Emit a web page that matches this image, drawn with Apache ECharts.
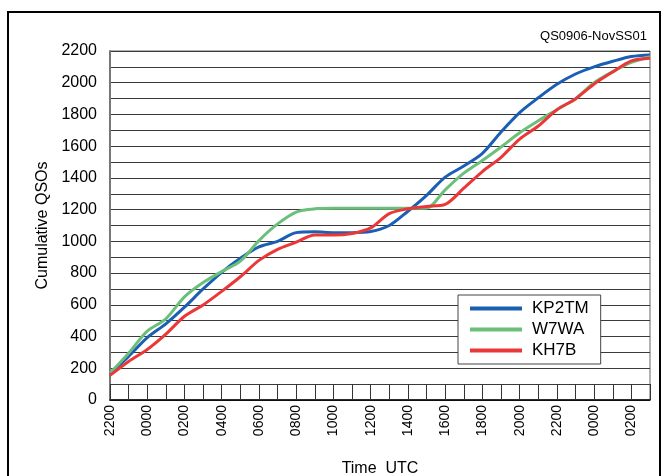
<!DOCTYPE html>
<html>
<head>
<meta charset="utf-8">
<script src="https://cdn.jsdelivr.net/npm/echarts@6/dist/echarts.min.js"></script>
<style>
  html, body { margin: 0; padding: 0; background: #fff; }
  #chart { width: 666px; height: 476px; }
</style>
</head>
<body>
<div id="chart"></div>
<script>
// hourly categories, 2200 through 0300 two days later
const hours = ['2200','2300','0000','0100','0200','0300','0400','0500','0600','0700',
  '0800','0900','1000','1100','1200','1300','1400','1500','1600','1700',
  '1800','1900','2000','2100','2200','2300','0000','0100','0200','0300']

const kp2tm = [165, 275, 393, 480, 585, 700, 805, 893, 965, 1000,
  1055, 1060, 1055, 1055, 1062, 1100, 1190, 1290, 1405, 1475,
  1555, 1690, 1812, 1905, 1990, 2055, 2100, 2135, 2165, 2175]
const w7wa = [170, 295, 434, 512, 650, 740, 810, 875, 1005, 1110,
  1185, 1205, 1208, 1208, 1208, 1208, 1208, 1210, 1325, 1430,
  1510, 1595, 1685, 1760, 1830, 1900, 2000, 2070, 2128, 2164]
const kh7b = [155, 243, 318, 415, 528, 599, 685, 777, 880, 950,
  995, 1040, 1040, 1050, 1085, 1175, 1205, 1220, 1233, 1335,
  1440, 1530, 1645, 1727, 1830, 1898, 1992, 2068, 2138, 2155]

const seriesNames = ['KP2TM', 'W7WA', 'KH7B']
const colors = ['#1a5fb4', '#6cbf7b', '#ea3838']

const chart = echarts.init(document.getElementById('chart'))
const font = 'Liberation Sans, Arial, sans-serif'

chart.setOption({
  animation: false,
  color: colors,
  textStyle: { fontFamily: font },
  title: {
    text: 'QS0906-NovSS01',
    right: 14,
    top: 25,
    textStyle: { fontSize: 13, fontWeight: 'normal', color: '#000', fontFamily: font }
  },
  graphic: [{
    type: 'rect',
    shape: { x: 8, y: 12, width: 652, height: 480 },
    style: { fill: 'none', stroke: '#000', lineWidth: 2 },
    silent: true
  }],
  legend: {
    orient: 'vertical',
    left: 458,
    top: 295,
    width: 145,
    data: seriesNames,
    icon: 'rect',
    itemWidth: 52,
    itemHeight: 4,
    itemGap: 4,
    padding: [5, 12, 5, 12],
    backgroundColor: '#fff',
    borderColor: '#444',
    borderWidth: 1,
    textStyle: { fontSize: 17, lineHeight: 17, color: '#000', padding: [0, 0, 0, 5] }
  },
  grid: {
    left: 110,
    right: 16,
    top: 51,
    bottom: 76,
    containLabel: false,
    outerBoundsMode: 'none',
    show: true,
    borderColor: '#666',
    borderWidth: 1
  },
  xAxis: {
    type: 'category',
    data: hours,
    boundaryGap: false,
    name: 'Time  UTC',
    nameLocation: 'middle',
    nameGap: 61,
    nameTextStyle: { fontSize: 16, color: '#000' },
    axisLine: { lineStyle: { color: '#000', width: 1.5 } },
    axisTick: { show: true, inside: true, length: 16, interval: 0, lineStyle: { color: '#333' } },
    axisLabel: { interval: 1, rotate: 90, fontSize: 14, color: '#000', margin: 5 },
    splitLine: { show: false }
  },
  yAxis: {
    type: 'value',
    min: 0,
    max: 2200,
    interval: 100,
    name: 'Cumulative QSOs',
    nameLocation: 'middle',
    nameGap: 58,
    nameTextStyle: { fontSize: 16, color: '#000' },
    axisLine: { show: true, lineStyle: { color: '#777', width: 2 } },
    axisTick: { show: false },
    axisLabel: {
      fontSize: 16,
      color: '#000',
      margin: 13,
      formatter: v => (v % 200 === 0 ? String(v) : '')
    },
    splitLine: { show: true, lineStyle: { color: '#3a3a3a', width: 1 } }
  },
  series: [
    { name: seriesNames[0], type: 'line', data: kp2tm, smooth: 0.3, showSymbol: false, lineStyle: { width: 3 } },
    { name: seriesNames[1], type: 'line', data: w7wa, smooth: 0.3, showSymbol: false, lineStyle: { width: 3 } },
    { name: seriesNames[2], type: 'line', data: kh7b, smooth: 0.3, showSymbol: false, lineStyle: { width: 3 } }
  ]
})
</script>
</body>
</html>
